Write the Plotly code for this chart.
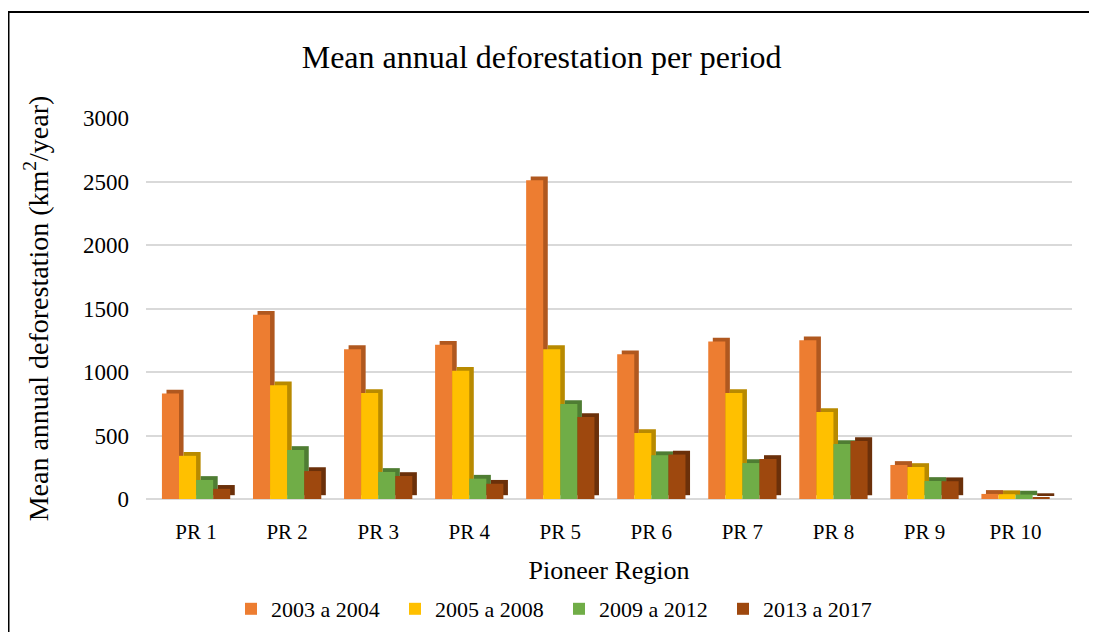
import plotly.graph_objects as go

categories = ["PR 1", "PR 2", "PR 3", "PR 4", "PR 5", "PR 6", "PR 7", "PR 8", "PR 9", "PR 10"]
series_names = ["2003 a 2004", "2005 a 2008", "2009 a 2012", "2013 a 2017"]
v_2003_2004 = [830, 1450, 1180, 1215, 2510, 1140, 1240, 1250, 268, 40]
v_2005_2008 = [340, 895, 835, 1010, 1180, 520, 835, 685, 252, 38]
v_2009_2012 = [150, 386, 213, 160, 748, 345, 283, 433, 142, 35]
v_2013_2017 = [80, 220, 181, 120, 646, 350, 315, 457, 140, 15]
y_ticks = [0, 500, 1000, 1500, 2000, 2500, 3000]

colors = ["#ED7D31", "#FFC000", "#70AD47", "#9E480E"]
side_colors = ["#B0581F", "#B88A00", "#4F7D33", "#6B300A"]
values = [v_2003_2004, v_2005_2008, v_2009_2012, v_2013_2017]

font_family = "Liberation Serif, Times New Roman, serif"
x_idx = list(range(len(categories)))

# page body has an 8px margin, so the figure is sized to fit inside the window
W, H = 1089, 624
L, R, T, B = 138, 25, 110, 133
pw, ph = W - L - R, H - T - B

# bar layout (style): group width and pseudo-3D depth
group_w = 0.75
bar_w = group_w / len(series_names)
depth_x = 0.05           # in category units
depth_y = 30             # in value units (a few pixels)

fig = go.Figure()
for i, (name, vals, c, sc) in enumerate(zip(series_names, values, colors, side_colors)):
    off = -group_w / 2 + i * bar_w
    # side/top face (darker), drawn behind the front face
    fig.add_trace(go.Bar(
        x=x_idx, y=vals, base=[depth_y] * len(vals), name=name + " side",
        offset=off + depth_x, width=bar_w,
        marker=dict(color=sc, line=dict(width=0)),
        showlegend=False, hoverinfo="skip",
    ))
    # front face
    fig.add_trace(go.Bar(
        x=x_idx, y=vals, name=name,
        offset=off, width=bar_w,
        marker=dict(color=c, line=dict(width=0)),
    ))

fig.update_layout(
    width=W, height=H,
    paper_bgcolor="white", plot_bgcolor="white",
    margin=dict(l=L, r=R, t=T, b=B),
    barmode="overlay",
    title=dict(text="Mean annual deforestation per period", x=0.49, xanchor="center",
               y=1 - 49 / H, yanchor="middle",
               font=dict(family=font_family, size=32, color="black")),
    font=dict(family=font_family, color="black"),
    showlegend=True,
    legend=dict(orientation="h", xref="container", yref="container",
                x=551 / W, xanchor="center", y=1 - 601 / H, yanchor="middle",
                font=dict(family=font_family, size=22, color="black"),
                itemwidth=30, traceorder="normal",
                entrywidth=119, entrywidthmode="pixels"),
    xaxis=dict(
        tickmode="array", tickvals=x_idx, ticktext=categories,
        range=[-0.55, 9.62], showgrid=False, zeroline=False, showline=False,
        ticks="", ticklabelstandoff=18, automargin=False,
        tickfont=dict(family=font_family, size=21, color="black"),
        title=dict(text="Pioneer Region", standoff=17,
                   font=dict(family=font_family, size=26, color="black")),
    ),
    yaxis=dict(
        range=[0, 3000], tickmode="array", tickvals=y_ticks,
        showgrid=True, gridcolor="#D9D9D9", gridwidth=2,
        zeroline=True, zerolinecolor="#D9D9D9", zerolinewidth=2,
        showline=False, ticks="", ticklabelstandoff=16, automargin=False,
        tickfont=dict(family=font_family, size=23, color="black"),
        title=dict(text="Mean annual deforestation (km<sup>2</sup>/year)", standoff=26,
                   font=dict(family=font_family, size=28, color="black")),
    ),
)

# outer frame (left and top edges visible in reference)
fig.add_shape(type="rect", xref="paper", yref="paper",
              x0=(0.5 - L) / pw, x1=1.2, y0=-0.6, y1=(H - B - 4) / ph,
              line=dict(color="black", width=2), fillcolor="rgba(0,0,0,0)", layer="below")

fig.write_html("out.html")
